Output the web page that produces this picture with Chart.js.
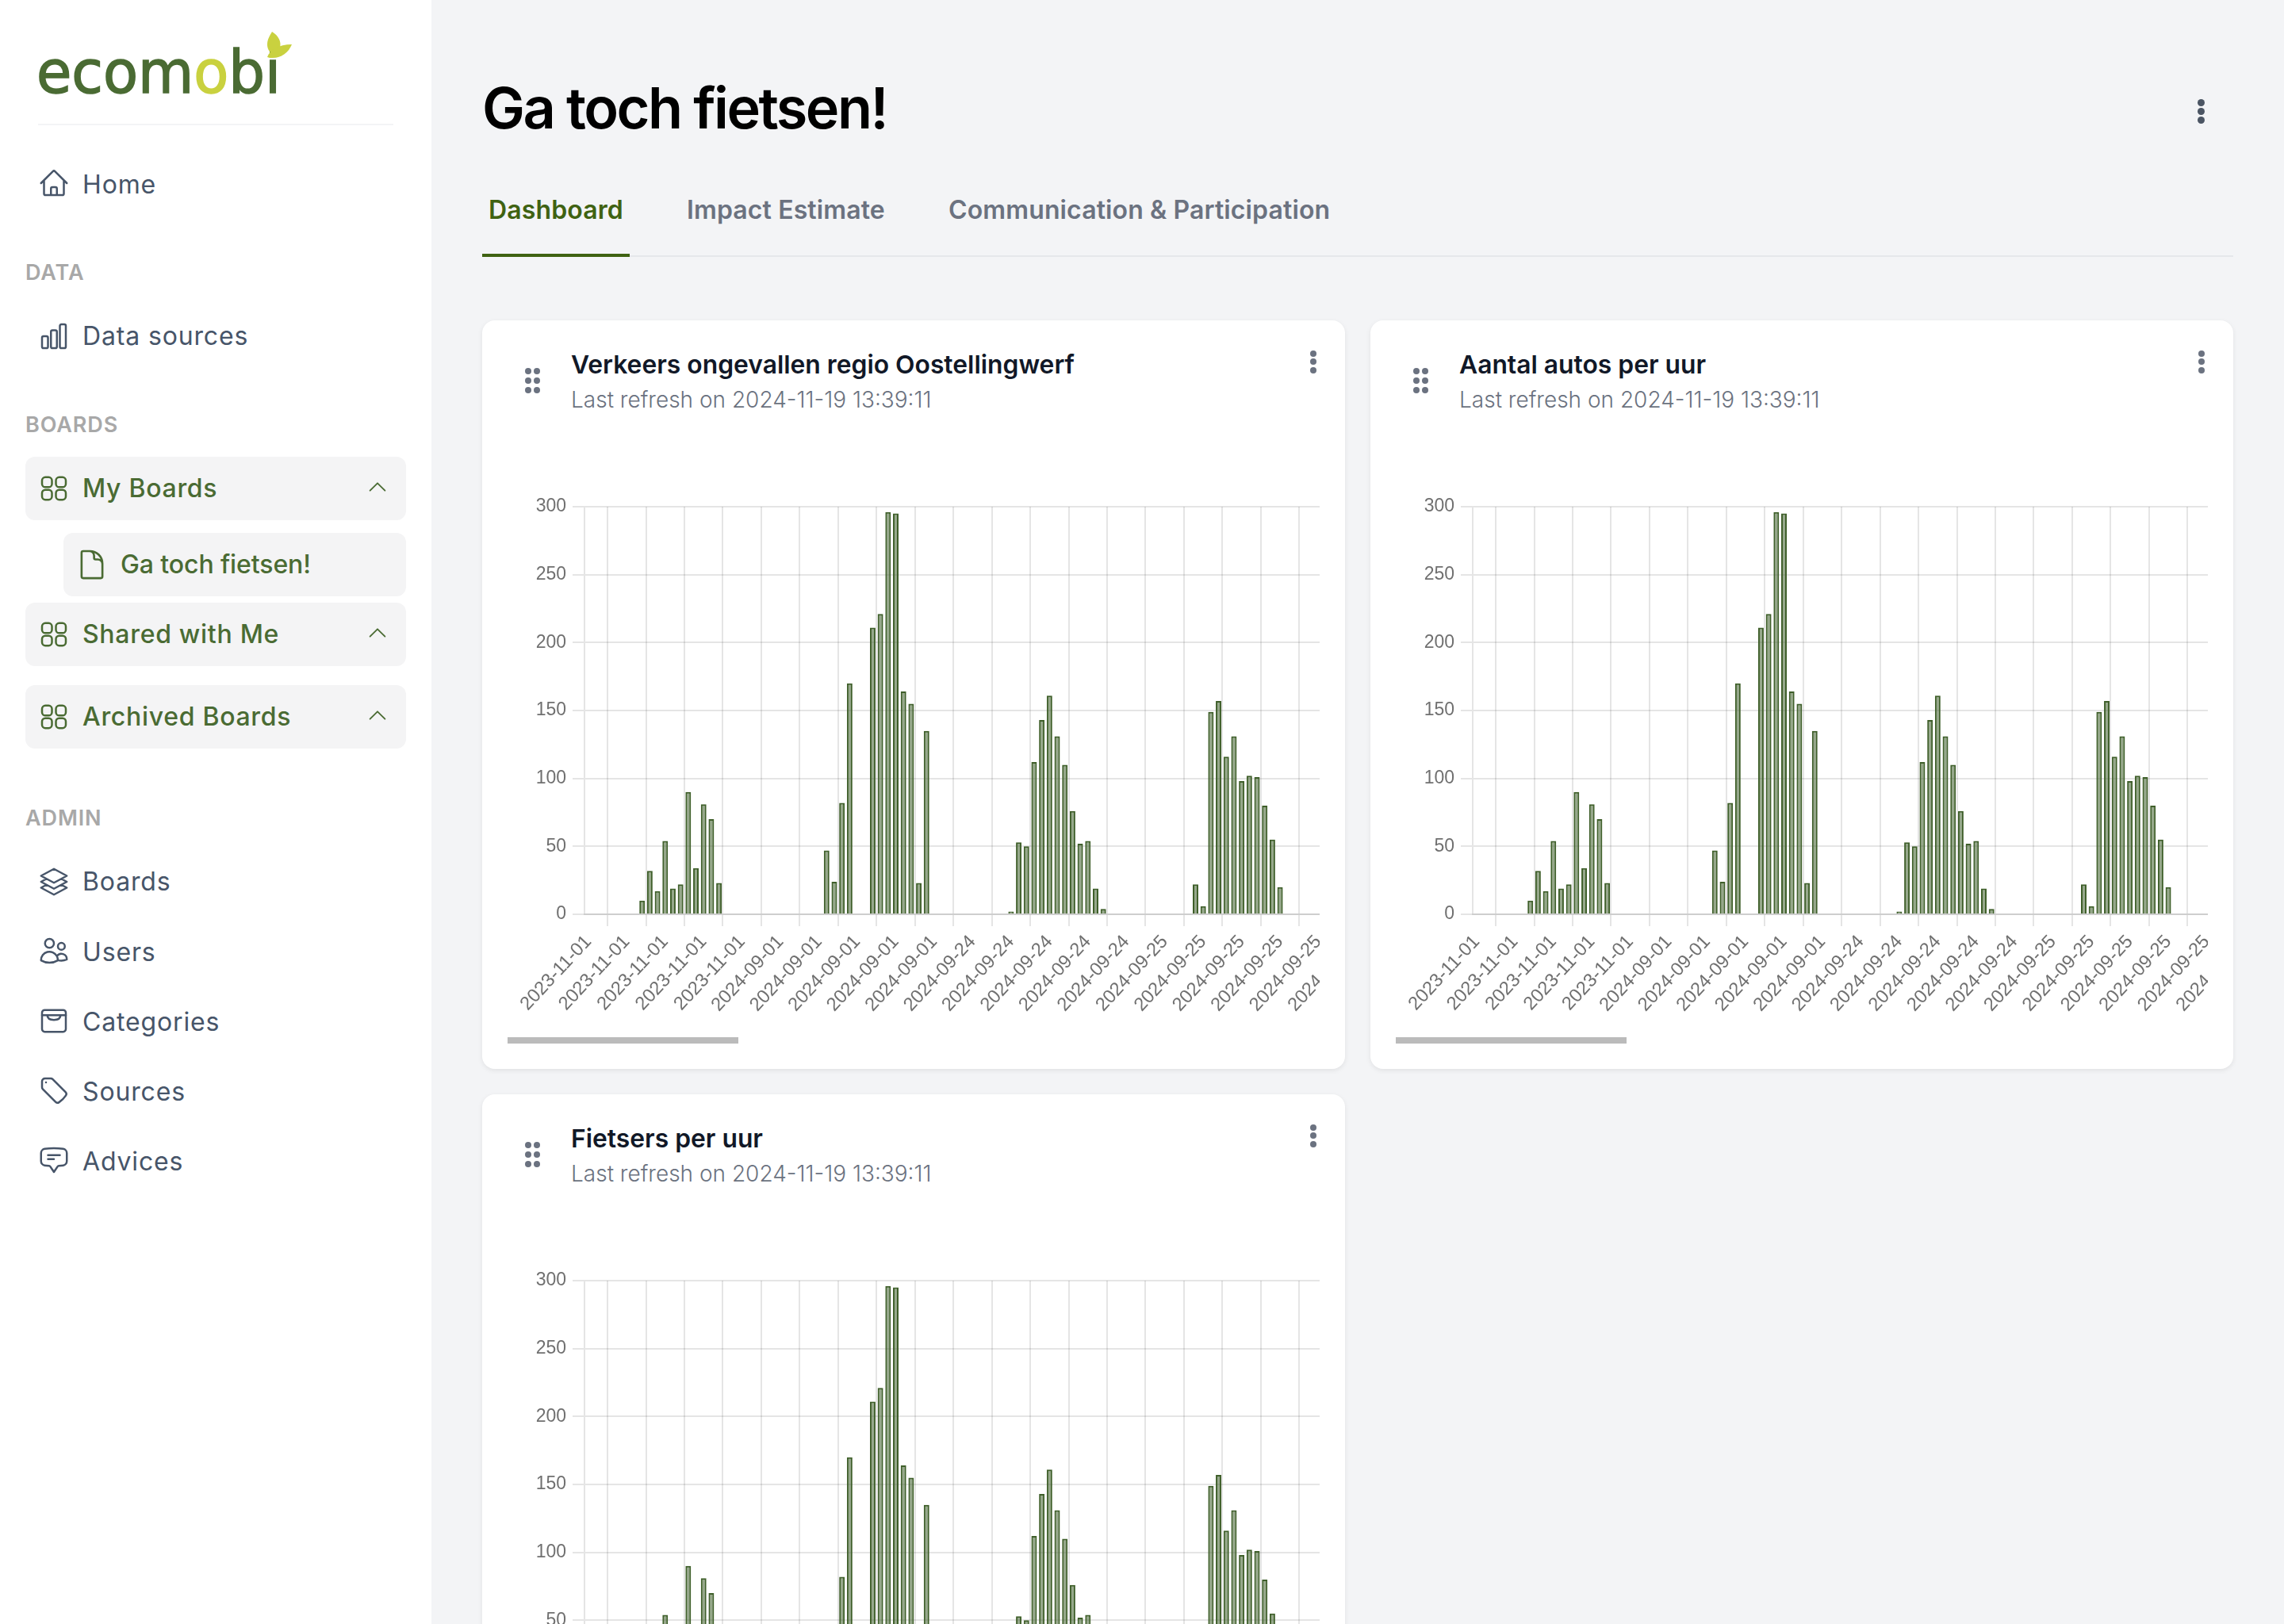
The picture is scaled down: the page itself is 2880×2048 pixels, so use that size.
<!DOCTYPE html>
<html lang="nl">
<head>
<meta charset="utf-8">
<title>Ga toch fietsen!</title>
<script src="https://cdn.jsdelivr.net/npm/chart.js@4"></script>
<style>
    * { box-sizing: border-box; }
    html, body { margin: 0; width: 2880px; height: 2048px; overflow: hidden; background: #f3f4f6; font-family: Inter, sans-serif; }
    .abs { position: absolute; white-space: nowrap; }
    #sidebar { position: absolute; left: 0; top: 0; width: 544px; height: 2048px; background: #fff; }
    .nav { font-size: 32px; letter-spacing: 0.85px; line-height: 40px; color: #475569; }
    .green { color: #4a6b33; font-weight: 500; letter-spacing: 0.7px; }
    .section { font-size: 27px; font-weight: 600; line-height: 34px; letter-spacing: 0.9px; color: #a8a8a8; }
    .box { position: absolute; background: #f4f4f5; border-radius: 12px; }
    .card { position: absolute; width: 1088px; height: 944px; background: #fff; border-radius: 16px; box-shadow: 0 2px 6px rgba(0,0,0,0.08); }
    .card-title { font-size: 31.8px; font-weight: 600; color: #111827; line-height: 40px; }
    .card-sub { font-size: 28px; font-weight: 300; color: #6b7280; line-height: 36px; }
    .scroller { position: absolute; left: 32px; top: 196.5px; width: 1024px; height: 700px; overflow: hidden; }
    .thumb { position: absolute; left: 32px; top: 904px; width: 291px; height: 8px; background: #bbb; }
    .dot { position: absolute; border-radius: 50%; background: #6b7280; }
    svg { position: absolute; overflow: visible; }
</style>
</head>
<body>
<div id="sidebar"></div>
<div id="main"></div>
<script>
// one array per day
const day20231101 = [0, 0, 0, 0, 0, 0, 0, 10, 32, 17, 54, 19, 22, 90, 34, 81, 70, 23, 0, 0, 0, 0, 0, 0];
const day20240901 = [0, 0, 0, 0, 0, 0, 0, 47, 24, 82, 170, 0, 0, 211, 221, 296, 295, 164, 155, 23, 135, 0, 0, 0];
const day20240924 = [0, 0, 0, 0, 0, 0, 0, 2, 53, 50, 112, 143, 161, 131, 110, 76, 52, 54, 19, 4, 0, 0, 0, 0];
const day20240925 = [0, 0, 0, 0, 0, 0, 0, 22, 6, 149, 157, 116, 131, 98, 102, 101, 80, 55, 20, 0, 0, 0, 0, 0];
const day20240926 = [0, 0, 0, 0, 0, 0, 0, 0, 0, 0, 0, 0, 0, 0, 0, 0, 0, 0, 0, 0, 0, 0, 0, 0];

const dates = ["2023-11-01", "2024-09-01", "2024-09-24", "2024-09-25", "2024-09-26"];
const yTicks = [0, 50, 100, 150, 200, 250, 300];
const cardTitles = ["Verkeers ongevallen regio Oostellingwerf", "Aantal autos per uur", "Fietsers per uur"];
const refreshText = "Last refresh on 2024-11-19 13:39:11";

const counts = [...day20231101, ...day20240901, ...day20240924, ...day20240925, ...day20240926];
const categories = dates.flatMap((d) => Array(24).fill(d));

const ICONS = {
    home: '<path d="M2.25 12l8.954-8.955c.44-.439 1.152-.439 1.591 0L21.75 12M4.5 9.75v10.125c0 .621.504 1.125 1.125 1.125H9.75v-4.875c0-.621.504-1.125 1.125-1.125h2.25c.621 0 1.125.504 1.125 1.125V21h4.125c.621 0 1.125-.504 1.125-1.125V9.75M8.25 21h8.25"/>',
    bars: '<path d="M3 13.125C3 12.504 3.504 12 4.125 12h2.25c.621 0 1.125.504 1.125 1.125v6.75C7.5 20.496 6.996 21 6.375 21h-2.25A1.125 1.125 0 013 19.875v-6.75zM9.75 8.625c0-.621.504-1.125 1.125-1.125h2.25c.621 0 1.125.504 1.125 1.125v11.25c0 .621-.504 1.125-1.125 1.125h-2.25a1.125 1.125 0 01-1.125-1.125V8.625zM16.5 4.125c0-.621.504-1.125 1.125-1.125h2.25C20.496 3 21 3.504 21 4.125v15.75c0 .621-.504 1.125-1.125 1.125h-2.25a1.125 1.125 0 01-1.125-1.125V4.125z"/>',
    grid: '<rect x="3" y="3.5" width="7.5" height="7.5" rx="2.5"/><rect x="13.5" y="3.5" width="7.5" height="7.5" rx="2.5"/><rect x="3" y="13" width="7.5" height="7.5" rx="2.5"/><rect x="13.5" y="13" width="7.5" height="7.5" rx="2.5"/>',
    doc: '<path d="M19.5 14.25v-2.625a3.375 3.375 0 00-3.375-3.375h-1.5A1.125 1.125 0 0113.5 7.125v-1.5a3.375 3.375 0 00-3.375-3.375H8.25m2.25 0H5.625c-.621 0-1.125.504-1.125 1.125v17.25c0 .621.504 1.125 1.125 1.125h12.75c.621 0 1.125-.504 1.125-1.125V11.25a9 9 0 00-9-9z"/>',
    stack: '<path d="M6.429 9.75L2.25 12l4.179 2.25m0-4.5l5.571 3 5.571-3m-11.142 0L2.25 7.5 12 2.25l9.75 5.25-4.179 2.25m0 0L21.75 12l-4.179 2.25m0 0l4.179 2.25L12 21.75 2.25 16.5l4.179-2.25m11.142 0l-5.571 3-5.571-3"/>',
    users: '<path d="M15 19.128a9.38 9.38 0 002.625.372 9.337 9.337 0 004.121-.952 4.125 4.125 0 00-7.533-2.493M15 19.128v-.003c0-1.113-.285-2.16-.786-3.07M15 19.128v.106A12.318 12.318 0 018.624 21c-2.331 0-4.512-.645-6.374-1.766l-.001-.109a6.375 6.375 0 0111.964-3.07M12 6.375a3.375 3.375 0 11-6.75 0 3.375 3.375 0 016.75 0zm8.25 2.25a2.625 2.625 0 11-5.25 0 2.625 2.625 0 015.25 0z"/>',
    archive: '<rect x="3" y="4" width="18" height="16.5" rx="2"/><path d="M3 8h18M7 8c0 2.5 2 3.5 5 3.5s5-1 5-3.5"/>',
    tag: '<path d="M9.568 3H5.25A2.25 2.25 0 003 5.25v4.318c0 .597.237 1.17.659 1.591l9.581 9.581c.699.699 1.78.872 2.607.33a18.095 18.095 0 005.223-5.223c.542-.827.369-1.908-.33-2.607L11.16 3.66A2.25 2.25 0 009.568 3z"/><path d="M6 6h.008v.008H6V6z"/>',
    chat: '<path d="M7.5 8.25h9m-9 3H12m-9.75 1.51c0 1.6 1.123 2.994 2.707 3.227 1.129.166 2.27.293 3.423.379.35.026.67.21.865.501L12 21l2.755-4.133a1.14 1.14 0 01.865-.501 48.172 48.172 0 003.423-.379c1.584-.233 2.707-1.626 2.707-3.228V6.741c0-1.602-1.123-2.995-2.707-3.228A48.394 48.394 0 0012 3c-2.392 0-4.744.175-7.043.513C3.373 3.746 2.25 5.14 2.25 6.741v6.018z"/>',
    chevron: '<path d="M4.5 15.75l7.5-7.5 7.5 7.5"/>',
};

const sidebar = document.getElementById("sidebar");
const main = document.getElementById("main");

function addText(parent, cls, text, x, cy, lineHeight) {
    const el = document.createElement("div");
    el.className = "abs " + cls;
    el.textContent = text;
    el.style.left = x + "px";
    el.style.top = cy - lineHeight / 2 + "px";
    parent.appendChild(el);
    return el;
}

function addIcon(parent, name, cx, cy, size, color) {
    parent.insertAdjacentHTML("beforeend",
        `<svg viewBox="0 0 24 24" width="${size}" height="${size}" fill="none" stroke="${color}" stroke-width="1.5" stroke-linecap="round" stroke-linejoin="round" style="left:${cx - size / 2}px;top:${cy - size / 2}px">${ICONS[name]}</svg>`);
}

function addBox(parent, x, y, w, h) {
    const el = document.createElement("div");
    el.className = "box";
    el.style.cssText = `left:${x}px;top:${y}px;width:${w}px;height:${h}px`;
    parent.appendChild(el);
}

function addDots(parent, cx, cy, gap, size, color) {
    [-gap, 0, gap].forEach((off) => {
        const el = document.createElement("div");
        el.className = "dot";
        el.style.cssText = `left:${cx - size / 2}px;top:${cy + off - size / 2}px;width:${size}px;height:${size}px` + (color ? `;background:${color}` : "");
        parent.appendChild(el);
    });
}

// logo
sidebar.insertAdjacentHTML("beforeend", `
<svg width="400" height="140" style="left:0;top:0">
  <text x="46" y="117" font-family="DejaVu Sans" font-size="75" fill="#4a6b33" stroke="#4a6b33" stroke-width="1.6" textLength="308" lengthAdjust="spacingAndGlyphs">eco<tspan>m</tspan><tspan fill="#c9d13f" stroke="#c9d13f">o</tspan>bi</text>
  <path d="M343 40c8 5 12 12 10 20-1 4-4 6-7 8-6-1-9-6-9-12 0-6 3-11 6-16z" fill="#c9d13f"/>
  <path d="M368 56c-4 10-13 17-24 17-3 0-5 0-7-1 3-9 14-16 31-16z" fill="#c9d13f"/>
</svg>`);
const logoRule = document.createElement("div");
logoRule.style.cssText = "position:absolute;left:48px;top:156px;width:448px;height:2px;background:#f3f4f6";
sidebar.appendChild(logoRule);

// sidebar nav
addIcon(sidebar, "home", 68, 231, 40, "#475569");
addText(sidebar, "nav", "Home", 104, 232.5, 40);
addText(sidebar, "section", "DATA", 32, 344, 34);
addIcon(sidebar, "bars", 68, 424, 40, "#475569");
addText(sidebar, "nav", "Data sources", 104, 424, 40);
addText(sidebar, "section", "BOARDS", 32, 536, 34);

addBox(sidebar, 32, 576, 480, 80);
addIcon(sidebar, "grid", 68, 616, 40, "#4a6b33");
addText(sidebar, "nav green", "My Boards", 104, 616, 40);
addIcon(sidebar, "chevron", 476, 614, 30, "#4a6b33");
addBox(sidebar, 80, 672, 432, 80);
addIcon(sidebar, "doc", 116, 712, 42, "#4a6b33");
addText(sidebar, "nav green", "Ga toch fietsen!", 152, 712, 40).style.letterSpacing = "-0.1px";
addBox(sidebar, 32, 760, 480, 80);
addIcon(sidebar, "grid", 68, 800, 40, "#4a6b33");
addText(sidebar, "nav green", "Shared with Me", 104, 800, 40);
addIcon(sidebar, "chevron", 476, 798, 30, "#4a6b33");
addBox(sidebar, 32, 864, 480, 80);
addIcon(sidebar, "grid", 68, 904, 40, "#4a6b33");
addText(sidebar, "nav green", "Archived Boards", 104, 904, 40);
addIcon(sidebar, "chevron", 476, 902, 30, "#4a6b33");

addText(sidebar, "section", "ADMIN", 32, 1032, 34);
[["stack", "Boards", 1112, 1112], ["users", "Users", 1199, 1201], ["archive", "Categories", 1287, 1288.5], ["tag", "Sources", 1375, 1376.5], ["chat", "Advices", 1463, 1464.5]]
    .forEach(([icon, label, iconY, textY]) => {
        addIcon(sidebar, icon, 68, iconY, 40, "#475569");
        addText(sidebar, "nav", label, 104, textY, 40);
    });

// page header
const pageTitle = addText(main, "", "Ga toch fietsen!", 608, 136, 90);
pageTitle.style.cssText += ";font-size:72px;font-weight:600;line-height:90px;color:#000;letter-spacing:-2.5px";
[["Dashboard", 616, "#3f6212"], ["Impact Estimate", 866, "#6b7280"], ["Communication & Participation", 1196, "#6b7280"]]
    .forEach(([label, x, color]) => {
        const tab = addText(main, "", label, x, 264.5, 44);
        tab.style.cssText += `;font-size:32px;font-weight:600;line-height:44px;letter-spacing:0.12px;color:${color}`;
    });
const tabRule = document.createElement("div");
tabRule.style.cssText = "position:absolute;left:608px;top:322px;width:2208px;height:2px;background:#e5e7eb";
main.appendChild(tabRule);
const tabActive = document.createElement("div");
tabActive.style.cssText = "position:absolute;left:608px;top:320px;width:186px;height:4px;background:#3f6212";
main.appendChild(tabActive);
addDots(main, 2775, 140, 11, 9, "#4b5563");

function drawChart(canvas) {
    return new Chart(canvas.getContext("2d"), {
        type: "bar",
        data: {
            labels: categories,
            datasets: [{
                data: counts,
                backgroundColor: "rgba(64, 96, 44, 0.55)",
                borderColor: "#3f5f2a",
                borderWidth: 2,
            }],
        },
        options: {
            responsive: false,
            animation: false,
            devicePixelRatio: 1,
            layout: { padding: { top: 38 } },
            plugins: { legend: { display: false }, tooltip: { enabled: false } },
            scales: {
                x: {
                    grid: { color: "rgba(0,0,0,0.1)", lineWidth: 2, tickLength: 15 },
                    border: { color: "rgba(0,0,0,0.1)", width: 2 },
                    ticks: {
                        autoSkip: false,
                        minRotation: 47,
                        maxRotation: 47,
                        padding: 6,
                        color: "#707070",
                        font: { family: "Liberation Sans", size: 23.6 },
                    },
                    afterBuildTicks: (scale) => {
                        scale.ticks = scale.ticks.filter((t) => t.value % 5 === 0);
                    },
                    afterFit: (scale) => {
                        scale.height = 148;
                        scale.paddingLeft = 0;
                        scale.paddingRight = 0;
                    },
                },
                y: {
                    min: yTicks[0],
                    max: yTicks[yTicks.length - 1],
                    grid: { color: "rgba(0,0,0,0.1)", lineWidth: 2, tickLength: 15 },
                    border: { color: "rgba(0,0,0,0.1)", width: 2 },
                    ticks: {
                        stepSize: yTicks[1] - yTicks[0],
                        padding: 8,
                        color: "#707070",
                        font: { family: "Liberation Sans", size: 23 },
                    },
                    afterFit: (scale) => {
                        scale.width = 97;
                    },
                },
            },
        },
    });
}

// three identical cards
[[608, 404], [1728, 404], [608, 1380]].forEach(([x, y], i) => {
    const card = document.createElement("div");
    card.className = "card";
    card.style.left = x + "px";
    card.style.top = y + "px";
    main.appendChild(card);

    addText(card, "card-title", cardTitles[i], 112, 56, 40);
    addText(card, "card-sub", refreshText, 112, 100, 36);
    addDots(card, 1048, 52, 10.5, 8);
    addDots(card, 58, 76, 12, 8);
    addDots(card, 69, 76, 12, 8);

    const scroller = document.createElement("div");
    scroller.className = "scroller";
    const canvas = document.createElement("canvas");
    canvas.width = 1260;
    canvas.height = 700;
    canvas.style.display = "block";
    scroller.appendChild(canvas);
    card.appendChild(scroller);

    const thumb = document.createElement("div");
    thumb.className = "thumb";
    card.appendChild(thumb);

    drawChart(canvas);
});
</script>
</body>
</html>
